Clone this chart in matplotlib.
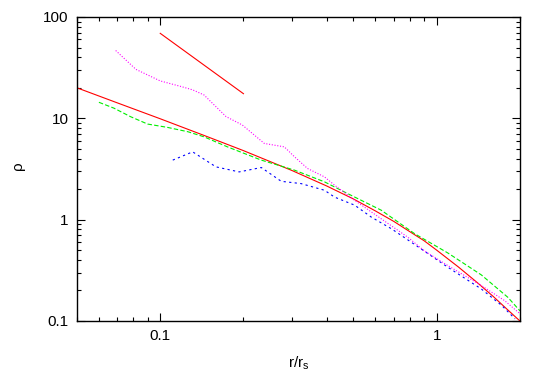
import matplotlib
matplotlib.use("Agg")
import matplotlib.pyplot as plt
from matplotlib.ticker import NullFormatter, FixedLocator, FixedFormatter, LogLocator

plt.rcParams['font.family'] = ['Liberation Sans', 'DejaVu Sans']

# Fitted profile (red solid)
fit_x = [0.05, 0.07, 0.1, 0.15, 0.2, 0.3, 0.4, 0.5, 0.6, 0.7, 0.8, 0.9, 1.0, 1.2, 1.4, 1.6, 1.8, 2.0]
fit_y = [20.0, 14.2, 9.9, 6.5, 4.8, 3.05, 2.15, 1.6, 1.22, 0.96, 0.76, 0.62, 0.50, 0.34, 0.24, 0.175, 0.13, 0.10]

# Reference slope line (red solid, short)
slope_x = [0.1, 0.2]
slope_y = [69.0, 17.5]

# Green dashed
green_x = [0.060, 0.068, 0.078, 0.090, 0.106, 0.126, 0.144, 0.175, 0.232, 0.306, 0.393, 0.476, 0.63, 0.832, 1.096, 1.45, 1.81, 2.0]
green_y = [14.4, 12.6, 10.4, 8.78, 8.15, 7.37, 6.57, 5.23, 3.87, 3.08, 2.36, 1.81, 1.24, 0.727, 0.470, 0.285, 0.171, 0.126]

# Blue dashed
blue_x = [0.111, 0.131, 0.159, 0.193, 0.232, 0.274, 0.323, 0.393, 0.427, 0.505, 0.58, 0.685, 0.832, 1.096, 1.45, 1.72, 1.92]
blue_y = [3.87, 4.67, 3.32, 2.96, 3.27, 2.39, 2.27, 1.95, 1.67, 1.39, 1.06, 0.815, 0.569, 0.34, 0.207, 0.142, 0.105]

# Magenta dotted
mag_x = [0.069, 0.0817, 0.1, 0.119, 0.131, 0.144, 0.173, 0.198, 0.238, 0.281, 0.306, 0.341, 0.393, 0.427, 0.505, 0.63, 0.785, 0.905, 1.096, 1.45, 1.76, 2.0]
mag_y = [46.7, 30.4, 23.4, 20.6, 19.1, 17.0, 10.4, 8.6, 5.65, 5.23, 4.17, 3.2, 2.64, 2.19, 1.55, 1.02, 0.673, 0.489, 0.353, 0.224, 0.159, 0.118]

x_ticks = [0.1, 1]
x_labels = ["0.1", "1"]
y_ticks = [0.1, 1, 10, 100]
y_labels = ["0.1", "1", "10", "100"]

fig = plt.figure(figsize=(5.45, 3.82), dpi=100)
ax = fig.add_axes([0.1413, 0.1597, 0.8127, 0.7958])

lw = 0.8
ax.plot(fit_x, fit_y, color='#ff0000', lw=lw)
ax.plot(slope_x, slope_y, color='#ff0000', lw=lw)
ax.plot(green_x, green_y, color='#00ee00', lw=lw, dashes=(4, 2))
ax.plot(blue_x, blue_y, color='#0000ff', lw=lw, dashes=(2, 3))
ax.plot(mag_x, mag_y, color='#ff00ff', lw=lw, dashes=(1, 1.5))

ax.set_xscale('log')
ax.set_yscale('log')
ax.set_xlim(0.05, 2)
ax.set_ylim(0.1, 100)

ax.xaxis.set_major_locator(FixedLocator(x_ticks))
ax.xaxis.set_major_formatter(FixedFormatter(x_labels))
ax.yaxis.set_major_locator(FixedLocator(y_ticks))
ax.yaxis.set_major_formatter(FixedFormatter(y_labels))
ax.xaxis.set_minor_locator(LogLocator(base=10, subs=range(2, 10)))
ax.yaxis.set_minor_locator(LogLocator(base=10, subs=range(2, 10)))
ax.xaxis.set_minor_formatter(NullFormatter())
ax.yaxis.set_minor_formatter(NullFormatter())

ax.tick_params(which='both', direction='in', top=True, right=True, width=0.8, colors='black', labelsize=11)
ax.tick_params(which='major', length=6, pad=6)
ax.tick_params(which='minor', length=3.2)
for s in ax.spines.values():
    s.set_linewidth(1.0)

ax.set_xlabel(r"r/r$_\mathregular{s}$", fontsize=11, labelpad=8)
fig.text(18 / 545, 1 - 166 / 382, "ρ", rotation=90, ha='center', va='center', fontsize=11)

fig.savefig("out.png", dpi=100)
